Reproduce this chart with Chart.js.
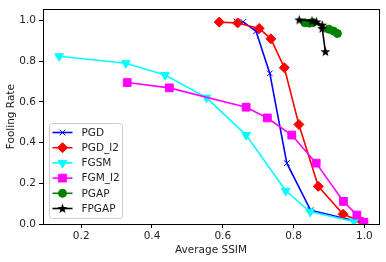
<!DOCTYPE html>
<html>
<head>
<meta charset="utf-8">
<script src="https://cdn.jsdelivr.net/npm/chart.js@4.4.0/dist/chart.umd.min.js"></script>
<style>
  html, body { margin: 0; padding: 0; background: #fff; }
  canvas { display: block; }
</style>
</head>
<body>
<canvas id="myChart" width="386" height="262"></canvas>
<script>
// values
const seriesNames = ['PGD', 'PGD_l2', 'FGSM', 'FGM_l2', 'PGAP', 'FPGAP'];

const pgdX = [0.639, 0.658, 0.694, 0.733, 0.781, 0.848, 0.999];
const pgdY = [0.995, 0.993, 0.947, 0.740, 0.299, 0.068, 0.005];

const pgdL2X = [0.590, 0.642, 0.703, 0.736, 0.774, 0.815, 0.870, 0.940, 0.995];
const pgdL2Y = [0.992, 0.988, 0.961, 0.910, 0.768, 0.489, 0.185, 0.048, 0.010];

const fgsmX = [0.138, 0.326, 0.437, 0.554, 0.666, 0.778, 0.847, 0.971];
const fgsmY = [0.824, 0.790, 0.732, 0.621, 0.437, 0.163, 0.060, 0.012];

const fgmL2X = [0.330, 0.449, 0.666, 0.726, 0.795, 0.864, 0.941, 0.979, 0.999];
const fgmL2Y = [0.695, 0.669, 0.574, 0.521, 0.437, 0.299, 0.111, 0.044, 0.008];

const pgapX = [0.832, 0.845, 0.855, 0.900, 0.913, 0.924];
const pgapY = [0.989, 0.987, 0.990, 0.957, 0.948, 0.936];

const fpgapX = [0.816, 0.852, 0.865, 0.881, 0.881, 0.890];
const fpgapY = [1.003, 0.998, 0.993, 0.977, 0.961, 0.847];

const xTicks = [0.2, 0.4, 0.6, 0.8, 1.0];
const yTicks = [0.0, 0.2, 0.4, 0.6, 0.8, 1.0];

function pts(xs, ys) {
  return xs.map((x, i) => ({ x: x, y: ys[i] }));
}

// filled five point star like matplotlib '*'
const star = document.createElement('canvas');
star.width = 11; star.height = 11;
(function () {
  const c = star.getContext('2d');
  c.beginPath();
  for (let i = 0; i < 10; i++) {
    const r = i % 2 === 0 ? 5.2 : 2.1;
    const a = -Math.PI / 2 + i * Math.PI / 5;
    const px = 5.5 + r * Math.cos(a), py = 5.8 + r * Math.sin(a);
    if (i === 0) c.moveTo(px, py); else c.lineTo(px, py);
  }
  c.closePath();
  c.fillStyle = '#000';
  c.fill();
})();

const styles = [
  { color: '#0000ff', pointStyle: 'crossRot', radius: 4, rotation: 0 },
  { color: '#ff0000', pointStyle: 'rectRot', radius: 5, rotation: 0 },
  { color: '#00ffff', pointStyle: 'triangle', radius: 5, rotation: 180 },
  { color: '#ff00ff', pointStyle: 'rect', radius: 5.5, rotation: 0 },
  { color: '#008000', pointStyle: 'circle', radius: 4, rotation: 0 },
  { color: '#000000', pointStyle: star, radius: 5, rotation: 0 }
];

const allData = [
  pts(pgdX, pgdY), pts(pgdL2X, pgdL2Y), pts(fgsmX, fgsmY),
  pts(fgmL2X, fgmL2Y), pts(pgapX, pgapY), pts(fpgapX, fpgapY)
];

const datasets = seriesNames.map((name, i) => ({
  label: name,
  data: allData[i],
  showLine: true,
  borderColor: styles[i].color,
  backgroundColor: styles[i].color,
  borderWidth: 1.6,
  pointStyle: styles[i].pointStyle,
  pointRadius: styles[i].radius,
  pointRotation: styles[i].rotation,
  pointBorderWidth: 1,
  pointBorderColor: styles[i].color,
  pointBackgroundColor: styles[i].color,
  order: -i
}));

const frame = {
  id: 'frame',
  afterDatasetsDraw(chart) {
    const a = chart.chartArea, ctx = chart.ctx;
    ctx.save();
    ctx.strokeStyle = '#000';
    ctx.lineWidth = 1;
    ctx.strokeRect(Math.round(a.left) + 0.5, Math.round(a.top) + 0.5,
      Math.round(a.right - a.left), Math.round(a.bottom - a.top));
    ctx.restore();
  }
};

// legend inside the axes, lower left, like matplotlib
const innerLegend = {
  id: 'innerLegend',
  afterDraw(chart) {
    const a = chart.chartArea, ctx = chart.ctx;
    const bx = a.left + 6.5, by = a.bottom - 100.5, bw = 73, bh = 95, r = 3;
    ctx.save();
    ctx.beginPath();
    ctx.moveTo(bx + r, by);
    ctx.arcTo(bx + bw, by, bx + bw, by + bh, r);
    ctx.arcTo(bx + bw, by + bh, bx, by + bh, r);
    ctx.arcTo(bx, by + bh, bx, by, r);
    ctx.arcTo(bx, by, bx + bw, by, r);
    ctx.closePath();
    ctx.fillStyle = 'rgba(255,255,255,0.8)';
    ctx.fill();
    ctx.strokeStyle = '#cccccc';
    ctx.lineWidth = 1;
    ctx.stroke();
    chart.data.datasets.forEach((ds, i) => {
      const y = by + 9 + i * 15.2;
      ctx.strokeStyle = ds.borderColor;
      ctx.lineWidth = 1.6;
      ctx.beginPath();
      ctx.moveTo(bx + 3, y);
      ctx.lineTo(bx + 23, y);
      ctx.stroke();
      ctx.fillStyle = ds.borderColor;
      ctx.strokeStyle = ds.borderColor;
      ctx.lineWidth = 1;
      Chart.helpers.drawPoint(ctx, {
        pointStyle: ds.pointStyle,
        rotation: ds.pointRotation,
        radius: ds.pointRadius,
        borderWidth: 1
      }, bx + 13, y);
      ctx.fillStyle = '#222';
      ctx.font = '10.5px "DejaVu Sans"';
      ctx.textBaseline = 'middle';
      ctx.textAlign = 'left';
      ctx.fillText(ds.label, bx + 32, y + 0.5);
    });
    ctx.restore();
  }
};

const ctx = document.getElementById('myChart').getContext('2d');
const myChart = new Chart(ctx, {
  type: 'scatter',
  data: { datasets: datasets },
  options: {
    responsive: false,
    animation: false,
    layout: { padding: { left: 0, right: 7, top: 6, bottom: 0 } },
    plugins: { legend: { display: false }, tooltip: { enabled: false } },
    scales: {
      x: {
        type: 'linear',
        min: 0.092,
        max: 1.0415,
        afterBuildTicks(s) { s.ticks = xTicks.map(v => ({ value: v })); },
        afterFit(s) { s.height = 38; },
        border: { display: false },
        grid: { drawOnChartArea: false, drawTicks: true, tickLength: 4, color: '#000' },
        ticks: {
          color: '#222', padding: 2, maxRotation: 0,
          font: { family: 'DejaVu Sans', size: 10.5 },
          callback: v => v.toFixed(1)
        },
        title: {
          display: true, text: 'Average SSIM', color: '#222',
          font: { family: 'DejaVu Sans', size: 10.5 }, padding: { top: 1, bottom: 5 }
        }
      },
      y: {
        type: 'linear',
        min: 0,
        max: 1.055,
        afterBuildTicks(s) { s.ticks = yTicks.map(v => ({ value: v })); },
        afterFit(s) { s.width = 43; },
        border: { display: false },
        grid: { drawOnChartArea: false, drawTicks: true, tickLength: 4, color: '#000' },
        ticks: {
          color: '#222', padding: 3,
          font: { family: 'DejaVu Sans', size: 10.5 },
          callback: v => v.toFixed(1)
        },
        title: {
          display: true, text: 'Fooling Rate', color: '#222',
          font: { family: 'DejaVu Sans', size: 10.5 }, padding: { top: 5, bottom: 0 }
        }
      }
    }
  },
  plugins: [frame, innerLegend]
});
</script>
</body>
</html>
